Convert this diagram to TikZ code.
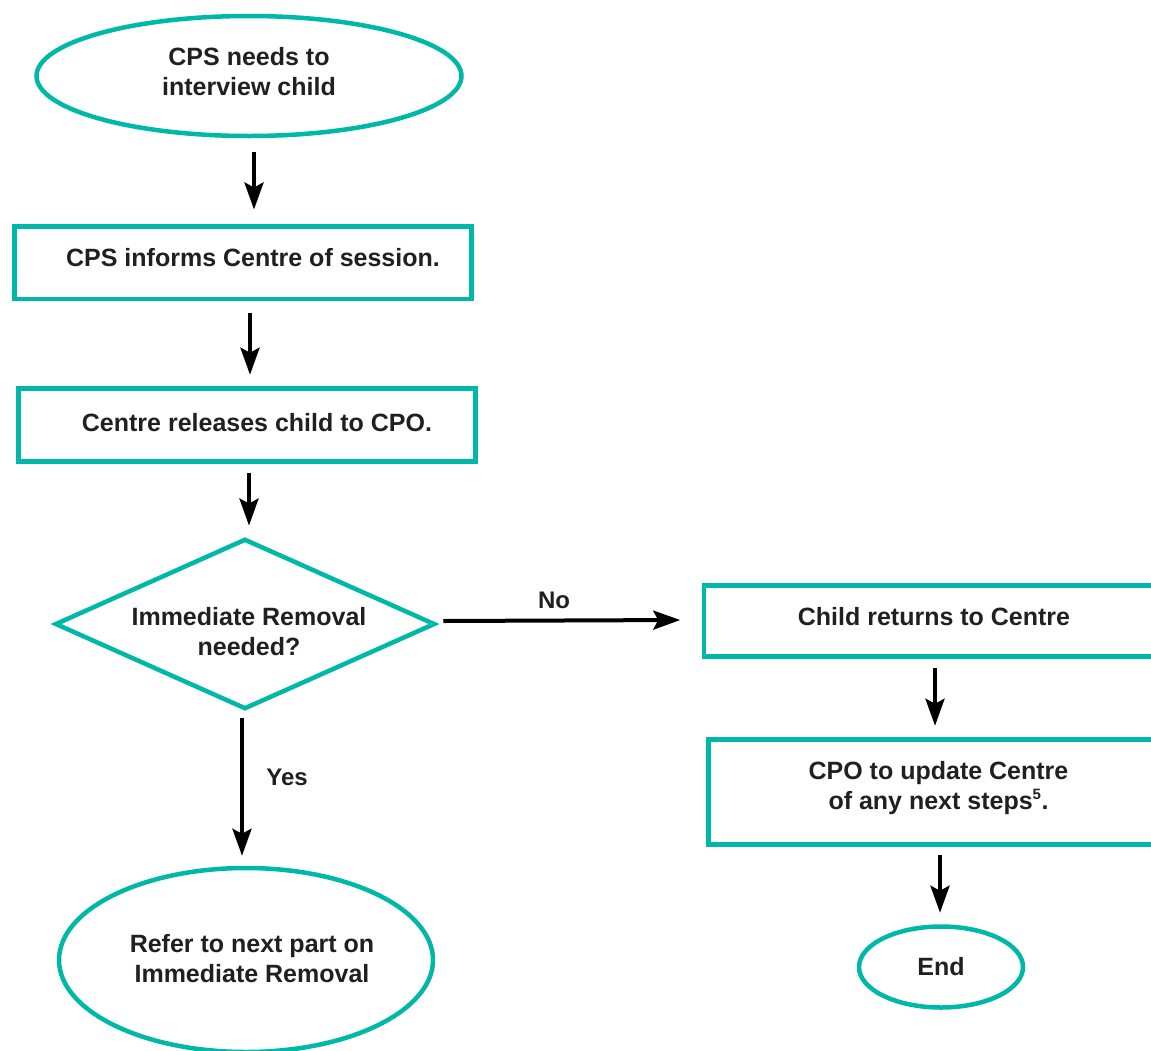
\documentclass[tikz,border=0pt]{standalone}
\usepackage{fontspec}
\setmainfont{Liberation Sans}
\usetikzlibrary{shapes.geometric,arrows.meta}
\definecolor{teal1}{HTML}{00B8A8}
\definecolor{ink}{HTML}{231F20}
\newcommand\rtxt[2]{\raisebox{#1}[\height][\depth]{\begin{tabular}{@{}c@{}}#2\end{tabular}}}
\begin{document}
\begin{tikzpicture}[x=1pt,y=-1pt,
  every node/.style={font=\bfseries\fontsize{25}{30}\selectfont, text=ink, align=center, inner sep=0pt},
  term/.style={ellipse, draw=teal1, line width=4.5pt},
  stepbox/.style={rectangle, draw=teal1, line width=4.5pt, minimum width=457pt},
  decide/.style={diamond, draw=teal1, line width=4.5pt, aspect=2.2, minimum width=380pt, minimum height=170pt},
  arr/.style={draw=black, line width=4pt, -{Stealth[length=27pt,width=19pt,inset=5pt]}},
  lbl/.style={font=\bfseries\fontsize{24}{28}\selectfont}
]
\fill[white] (0,0) rectangle (1151,1050);
\clip (0,0) rectangle (1151,1050);

\node[term, minimum width=425pt, minimum height=120pt] (start) at (249,76) {\rtxt{2pt}{CPS needs to\\interview child}};
\node[stepbox, minimum height=72.5pt] (b1) at (243,262.5) {\hspace*{20pt}\rtxt{2pt}{CPS informs Centre of session.}};
\node[stepbox, minimum height=73pt] (b2) at (247,425) {\hspace*{20pt}\rtxt{0pt}{Centre releases child to CPO.}};
\node[decide] (dia) at (245,624) {\hspace*{8pt}\rtxt{-10pt}{Immediate Removal\\needed?}};
\node[stepbox, minimum width=460pt, minimum height=71pt] (b3) at (934,621) {\rtxt{2pt}{Child returns to Centre}};
\node[stepbox, minimum width=460pt, minimum height=105pt] (b4) at (938.5,792) {\rtxt{4pt}{CPO to update Centre\\of any next steps\textsuperscript{\fontsize{15}{15}\selectfont 5}.}};
\node[term, minimum width=374pt, minimum height=184pt] (refer) at (246,960) {\hspace*{12pt}\rtxt{-1.5pt}{Refer to next part on\\Immediate Removal}};
\node[term, minimum width=164pt, minimum height=81pt] (end) at (941,967) {End};

\node[lbl] (nolbl) at (554,600) {No};
\node[lbl] (yeslbl) at (287,777) {Yes};

\draw[arr] ([xshift=5pt,yshift=-14pt]start.south) -- ([xshift=11pt,yshift=14.5pt]b1.north);
\draw[arr] ([xshift=7pt,yshift=-11.5pt]b1.south) -- ([xshift=3pt,yshift=11.5pt]b2.north);
\draw[arr] ([xshift=2pt,yshift=-9.5pt]b2.south) -- ([xshift=4pt,yshift=11pt]dia.north);
\draw[arr] ([xshift=6pt,yshift=3pt]dia.east) -- ([xshift=-21.5pt,yshift=1pt]b3.west);
\draw[arr] ([xshift=-3pt,yshift=-7pt]dia.south) -- ([xshift=-4pt,yshift=10pt]refer.north);
\draw[arr] ([xshift=1pt,yshift=-9.5pt]b3.south) -- ([xshift=-3.5pt,yshift=11.5pt]b4.north);
\draw[arr] ([xshift=1.5pt,yshift=-8.5pt]b4.south) -- ([xshift=-1pt,yshift=11.5pt]end.north);
\end{tikzpicture}
\end{document}
